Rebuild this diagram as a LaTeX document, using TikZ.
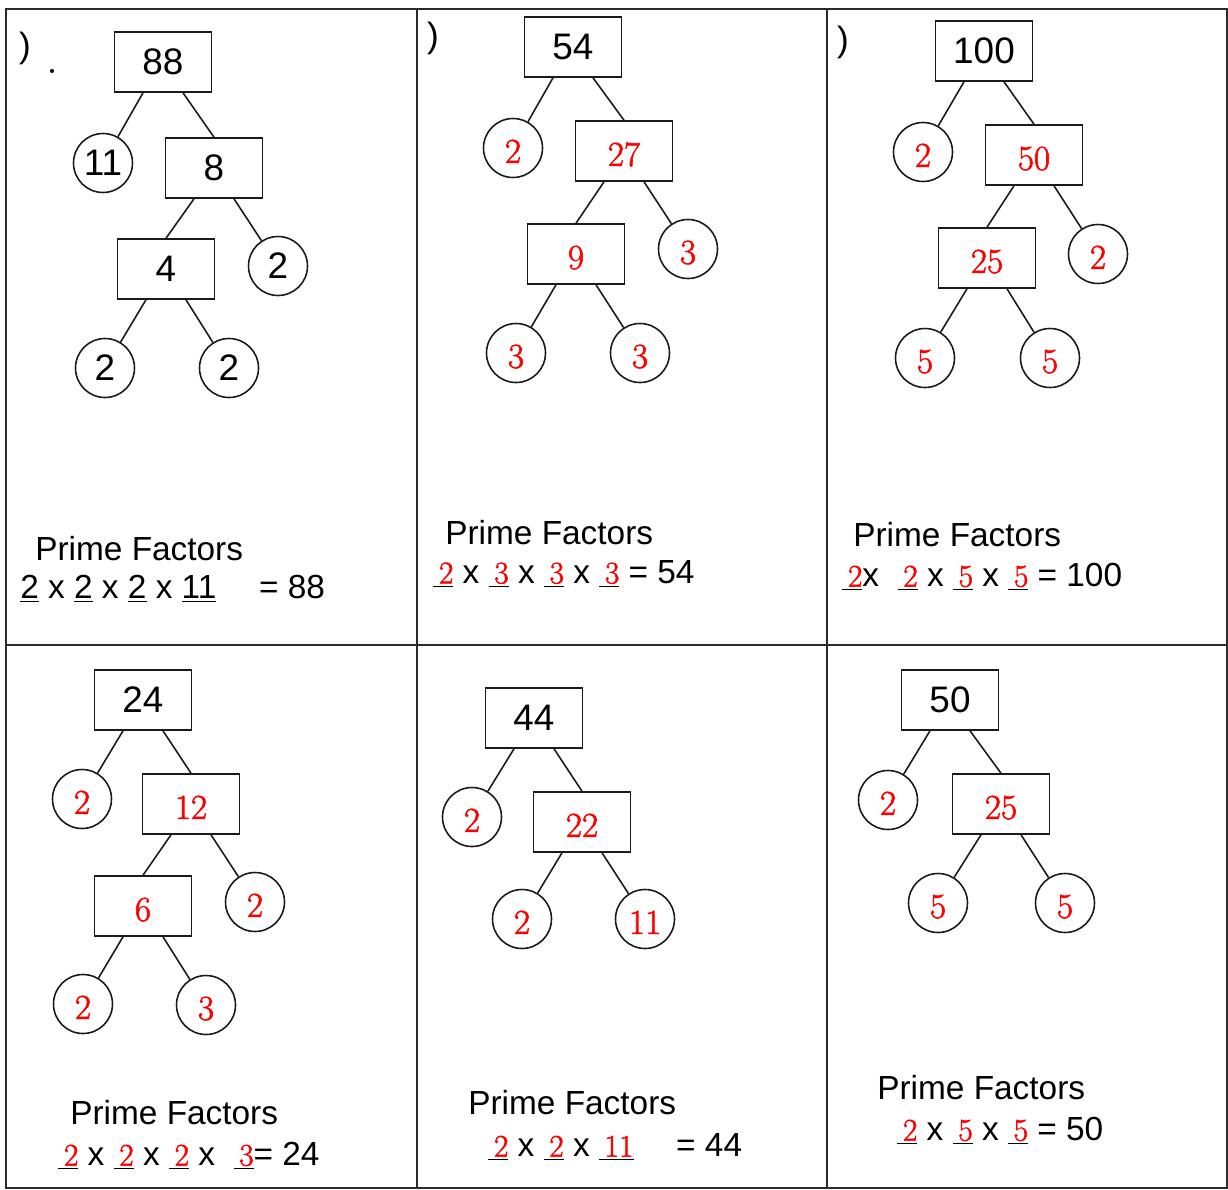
\documentclass[tikz,border=0pt]{standalone}
\usepackage{fontspec}
\setsansfont{Liberation Sans}
\newfontfamily\redfont{Latin Modern Roman}[FakeBold=1.6]
\usepackage{tikz}

% fattore primo sottolineato (in rosso)
\newcommand{\rfac}[1]{\underline{\,\textcolor{colAns}{\redfont\fontsize{18}{20}\selectfont #1}}}

\begin{document}
\begin{tikzpicture}[x=0.02cm,y=-0.02cm,
  numBox/.style={draw=colLine, line width=0.9pt, minimum width=1.94cm, minimum height=1.2cm, inner sep=0pt, font=\sffamily\fontsize{21}{24}\selectfont},
  numCirc/.style={draw=colLine, line width=0.9pt, circle, minimum size=1.18cm, inner sep=0pt, font=\sffamily\fontsize{21}{24}\selectfont},
  redNum/.style={text=colAns, font=\redfont\fontsize{20}{22}\selectfont, text height=17pt, text depth=0pt},
  primeTxt/.style={anchor=west, inner sep=0pt, font=\sffamily\fontsize{19}{22}\selectfont},
  ramo/.style={draw=colLine, line width=0.9pt}]

% Colori
\definecolor{colAns}{HTML}{FF0000}
\definecolor{colLine}{HTML}{1A1A1A}
\definecolor{colFrame}{HTML}{2B2B2B}

% Spostamento dei rami sotto le scatole
\def\dx{0.4cm}

\useasboundingbox (0,0) rectangle (1228,1190);

% Griglia dei riquadri
\draw[colFrame, line width=0.9pt] (6,9) rectangle (1227,1188);
\draw[colFrame, line width=0.9pt] (417,9) -- (417,1188);
\draw[colFrame, line width=0.9pt] (827,9) -- (827,1188);
\draw[colFrame, line width=0.9pt] (6,645) -- (1227,645);

% Segni di numerazione
\node[font=\sffamily\fontsize{20}{24}\selectfont] (m88) at (25,48) {)};
\fill[colLine] (52,71) circle (1.2pt);
\node[font=\sffamily\fontsize{20}{24}\selectfont] (m54) at (433,38) {)};
\node[font=\sffamily\fontsize{20}{24}\selectfont] (m100) at (843,42) {)};

% Albero 88
\node[numBox] (a88) at (163,62) {88};
\node[numCirc] (a11) at (103,163) {11};
\node[numBox] (a8) at (214,168) {8};
\node[numBox] (a4) at (166,269) {4};
\node[numCirc] (a2r) at (278,266) {2};
\node[numCirc] (a2l) at (105,368) {2};
\node[numCirc] (a2m) at (229,368) {2};
\draw[ramo] ([xshift=-\dx]a88.south) -- (a11);
\draw[ramo] ([xshift=\dx]a88.south) -- (a8.north);
\draw[ramo] ([xshift=-\dx]a8.south) -- (a4.north);
\draw[ramo] ([xshift=\dx]a8.south) -- (a2r);
\draw[ramo] ([xshift=-\dx]a4.south) -- (a2l);
\draw[ramo] ([xshift=\dx]a4.south) -- (a2m);
\node[primeTxt] (pf88) at (35,549) {Prime Factors};
\node[primeTxt] (pr88) at (20,589) {\underline{2} x \underline{2} x \underline{2} x \underline{11} \quad = 88};

% Albero 54
\node[numBox] (b54) at (573,47) {54};
\node[numCirc, redNum] (b2) at (513,148) {2};
\node[numBox, redNum] (b27) at (624,151) {27};
\node[numBox, redNum] (b9) at (576,254) {9};
\node[numCirc, redNum] (b3r) at (688,249) {3};
\node[numCirc, redNum] (b3l) at (516,353) {3};
\node[numCirc, redNum] (b3m) at (640,353) {3};
\draw[ramo] ([xshift=-\dx]b54.south) -- (b2);
\draw[ramo] ([xshift=\dx]b54.south) -- (b27.north);
\draw[ramo] ([xshift=-\dx]b27.south) -- (b9.north);
\draw[ramo] ([xshift=\dx]b27.south) -- (b3r);
\draw[ramo] ([xshift=-\dx]b9.south) -- (b3l);
\draw[ramo] ([xshift=\dx]b9.south) -- (b3m);
\node[primeTxt] (pf54) at (445,533) {Prime Factors};
\node[primeTxt] (pr54) at (433,574) {\rfac{2} x \rfac{3} x \rfac{3} x \rfac{3} = 54};

% Albero 100
\node[numBox] (c100) at (984,51) {100};
\node[numCirc, redNum] (c2) at (923,152) {2};
\node[numBox, redNum] (c50) at (1034,155) {50};
\node[numBox, redNum] (c25) at (987,258) {25};
\node[numCirc, redNum] (c2r) at (1098,254) {2};
\node[numCirc, redNum] (c5l) at (925,358) {5};
\node[numCirc, redNum] (c5m) at (1050,358) {5};
\draw[ramo] ([xshift=-\dx]c100.south) -- (c2);
\draw[ramo] ([xshift=\dx]c100.south) -- (c50.north);
\draw[ramo] ([xshift=-\dx]c50.south) -- (c25.north);
\draw[ramo] ([xshift=\dx]c50.south) -- (c2r);
\draw[ramo] ([xshift=-\dx]c25.south) -- (c5l);
\draw[ramo] ([xshift=\dx]c25.south) -- (c5m);
\node[primeTxt] (pf100) at (853,535) {Prime Factors};
\node[primeTxt] (pr100) at (842,577) {\rfac{2}x \ \rfac{2} x \rfac{5} x \rfac{5} = 100};

% Albero 24
\node[numBox] (d24) at (143,700) {24};
\node[numCirc, redNum] (d2) at (82,799) {2};
\node[numBox, redNum] (d12) at (191,804) {12};
\node[numBox, redNum] (d6) at (143,906) {6};
\node[numCirc, redNum] (d2r) at (255,902) {2};
\node[numCirc, redNum] (d2l) at (83,1004) {2};
\node[numCirc, redNum] (d3) at (206,1005) {3};
\draw[ramo] ([xshift=-\dx]d24.south) -- (d2);
\draw[ramo] ([xshift=\dx]d24.south) -- (d12.north);
\draw[ramo] ([xshift=-\dx]d12.south) -- (d6.north);
\draw[ramo] ([xshift=\dx]d12.south) -- (d2r);
\draw[ramo] ([xshift=-\dx]d6.south) -- (d2l);
\draw[ramo] ([xshift=\dx]d6.south) -- (d3);
\node[primeTxt] (pf24) at (70,1113) {Prime Factors};
\node[primeTxt] (pr24) at (58,1156) {\rfac{2} x \rfac{2} x \rfac{2} x \ \rfac{3}= 24};

% Albero 44
\node[numBox] (e44) at (534,718) {44};
\node[numCirc, redNum] (e2) at (472,817) {2};
\node[numBox, redNum] (e22) at (582,822) {22};
\node[numCirc, redNum] (e2l) at (522,919) {2};
\node[numCirc, redNum] (e11) at (645,919) {11};
\draw[ramo] ([xshift=-\dx]e44.south) -- (e2);
\draw[ramo] ([xshift=\dx]e44.south) -- (e22.north);
\draw[ramo] ([xshift=-\dx]e22.south) -- (e2l);
\draw[ramo] ([xshift=\dx]e22.south) -- (e11);
\node[primeTxt] (pf44) at (468,1103) {Prime Factors};
\node[primeTxt] (pr44) at (488,1147) {\rfac{2} x \rfac{2} x \rfac{11} \quad = 44};

% Albero 50
\node[numBox] (f50) at (950,700) {50};
\node[numCirc, redNum] (f2) at (888,800) {2};
\node[numBox, redNum] (f25) at (1001,804) {25};
\node[numCirc, redNum] (f5l) at (938,903) {5};
\node[numCirc, redNum] (f5m) at (1065,903) {5};
\draw[ramo] ([xshift=-\dx]f50.south) -- (f2);
\draw[ramo] ([xshift=\dx]f50.south) -- (f25.north);
\draw[ramo] ([xshift=-\dx]f25.south) -- (f5l);
\draw[ramo] ([xshift=\dx]f25.south) -- (f5m);
\node[primeTxt] (pf50) at (877,1088) {Prime Factors};
\node[primeTxt] (pr50) at (897,1131) {\rfac{2} x \rfac{5} x \rfac{5} = 50};

\end{tikzpicture}
\end{document}
